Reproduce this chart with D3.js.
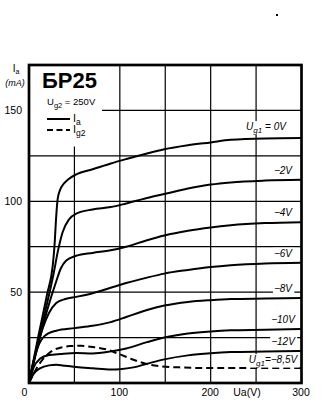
<!DOCTYPE html>
<html><head><meta charset="utf-8">
<script src="https://cdn.jsdelivr.net/npm/d3@7"></script>
<style>
body{margin:0;background:#fff}
text{font-family:"Liberation Sans Narrow","Liberation Sans",Arial,sans-serif;fill:#000}
</style>
</head><body><svg id="c" width="334" height="404"></svg>
<script>
// Axis ticks and grid
const uaTicks = [0, 100, 200, 300];
const iaTicks = [50, 100, 150];
const gridUa = [50, 100, 150, 200, 250];
const gridIa = [25, 50, 75, 100, 125, 150];

// Anode current Ia (mA) versus Ua (V) for each grid-1 voltage
const ia0V = [[0,0],[10,25],[20,49],[26,64],[28,75],[30,92],[31.5,101],[34,106],[38,109.5],[43,112],[52,114.8],[70,117.6],[90,120.8],[107,123.2],[130,126.3],[149,128.6],[175,130.8],[200,132.4],[222,133.8],[260,134.6],[300,134.8]];
const ia2V = [[0,0],[10,23],[20,44],[27,60],[32,73],[37,83],[44,90],[52,93.2],[70,95.5],[90,96.8],[107,98.8],[130,101.8],[149,104],[175,107],[200,109.2],[222,110.4],[260,111.4],[300,111.8]];
const ia4V = [[0,0],[10,21],[20,40],[30,56],[35,63],[41,67.4],[52,70],[70,71.6],[90,73],[107,75],[130,78.6],[149,81.2],[175,83.8],[200,85.6],[222,86.8],[260,88],[300,88.5]];
const ia6V = [[0,0],[8,18],[15,30],[22,38.5],[30,44],[40,46.2],[52,47.4],[70,49.4],[90,52.4],[107,55],[130,58],[149,60.2],[175,62.2],[200,63.8],[222,64.8],[260,65.8],[300,66.2]];
const ia8V = [[0,0],[5,12],[10,20],[17,25.8],[30,28.8],[50,30.2],[70,31.5],[90,33.5],[107,36.3],[130,40.2],[149,42.6],[175,44.6],[200,45.6],[222,46.2],[260,46.5],[300,46.8]];
const ia10V = [[0,0],[5,8.5],[12,13.3],[22,15.4],[35,16],[52,16.5],[70,16.3],[90,17.4],[107,19],[130,22.5],[149,25],[175,27.2],[200,28.4],[222,29],[260,29.3],[300,29.7]];
const ia12V = [[0,0],[5,5],[12,8],[22,9.7],[30,10],[40,9.5],[52,8.8],[70,8.1],[90,7.4],[100,7.6],[115,8.6],[130,10.6],[149,13],[175,15.2],[200,16.4],[222,17],[260,17.3],[300,17.6]];
// Screen-grid current Ig2 at Ug1 = -8.5 V
const ig2 = [[0,0],[5,5],[10,9.5],[17,14],[25,17.5],[35,19.5],[45,20.3],[57,20.5],[70,19.8],[85,18.5],[100,15.8],[115,12.8],[130,10.4],[145,9.2],[165,8.6],[200,8.2],[300,8.2]];

const curves = [
  {data: ia0V,  label: "0V"},
  {data: ia2V,  label: "\u22122V"},
  {data: ia4V,  label: "\u22124V"},
  {data: ia6V,  label: "\u22126V"},
  {data: ia8V,  label: "\u22128V"},
  {data: ia10V, label: "\u221210V"},
  {data: ia12V, label: "\u221212V"}
];

const svg = d3.select("#c");
const x = d3.scaleLinear().domain([0, 300]).range([29, 301.5]);
const y = d3.scaleLinear().domain([0, 175]).range([383, 65]);

// grid
const grid = svg.append("g").attr("stroke", "#000").attr("stroke-width", 1.2);
grid.selectAll("line.v").data(gridUa).join("line")
  .attr("x1", d => x(d)).attr("x2", d => x(d)).attr("y1", y(0)).attr("y2", y(175));
grid.selectAll("line.h").data(gridIa).join("line")
  .attr("y1", d => y(d)).attr("y2", d => y(d)).attr("x1", x(0)).attr("x2", x(300));

// legend panel
svg.append("rect").attr("x", 30).attr("y", 65).attr("width", 72).attr("height", 81.5).attr("fill", "#fff");

const line = d3.line().x(d => x(d[0])).y(d => y(d[1])).curve(d3.curveMonotoneX);

svg.append("g").selectAll("path").data(curves).join("path")
  .attr("d", d => line(d.data)).attr("fill", "none").attr("stroke", "#000").attr("stroke-width", 2);

svg.append("path").attr("d", line(ig2)).attr("fill", "none").attr("stroke", "#000")
  .attr("stroke-width", 2).attr("stroke-dasharray", "7,4");

// curve labels with white backing
function boxed(g) {
  g.each(function() {
    const t = d3.select(this).select("text").node().getBBox();
    d3.select(this).insert("rect", "text").attr("x", t.x - 1).attr("y", t.y).attr("width", t.width + 2)
      .attr("height", t.height).attr("fill", "#fff");
  });
}
function ugLabel(g, sub, rest) {
  const t = g.append("text").attr("font-size", 10).attr("font-style", "italic").attr("text-anchor", "middle");
  t.append("tspan").text("U");
  t.append("tspan").attr("font-size", 8).attr("dy", 2.5).text(sub);
  t.append("tspan").attr("dy", -2.5).text(rest);
  return t;
}

const lab = svg.append("g");
curves.forEach((c, i) => {
  const last = c.data[c.data.length - 1];
  const g = lab.append("g");
  if (i === 0) {
    ugLabel(g, "g1", " = " + c.label).attr("x", 266).attr("y", y(last[1]) - 8);
  } else {
    g.append("text").attr("font-size", 10).attr("font-style", "italic").attr("text-anchor", "middle")
      .attr("x", 283).attr("y", y(last[1]) - 6).text(c.label);
  }
  boxed(g);
});
{
  const g = lab.append("g");
  ugLabel(g, "g1", "=\u22128,5V").attr("x", 273).attr("y", y(ig2[ig2.length - 1][1]) - 5);
  boxed(g);
}

// axes
const ax = svg.append("g").attr("transform", `translate(0,${y(0)})`)
  .call(d3.axisBottom(x).tickValues(uaTicks).tickSize(0).tickPadding(6).tickFormat(d3.format("d")));
ax.select(".domain").remove();
ax.selectAll("text").attr("font-size", 10.5).attr("font-family", null).attr("dx", d => d === 0 ? -5 : -1);
svg.append("text").attr("x", 247).attr("y", 396).attr("font-size", 10.5).attr("text-anchor", "middle").text("Ua(V)");

const ay = svg.append("g").attr("transform", `translate(${x(0)},0)`)
  .call(d3.axisLeft(y).tickValues(iaTicks).tickSize(0).tickPadding(7).tickFormat(d3.format("d")));
ay.select(".domain").remove();
ay.selectAll("text").attr("font-size", 10.5).attr("font-family", null);

// y axis title
const yt = svg.append("text").attr("x", 16).attr("y", 72).attr("font-size", 10).attr("text-anchor", "middle")
  .attr("font-family", "'Liberation Serif',serif");
yt.append("tspan").text("I");
yt.append("tspan").attr("font-size", 7).attr("dy", 2).text("a");
svg.append("text").attr("x", 15).attr("y", 86).attr("font-size", 9).attr("font-style", "italic")
  .attr("text-anchor", "middle").text("(mA)");

// legend
svg.append("text").attr("x", 42).attr("y", 88).attr("font-size", 22).attr("font-weight", "bold")
  .attr("font-family", "'Liberation Sans',Arial,sans-serif").text("\u0411\u042025");
const ug2 = svg.append("text").attr("x", 47).attr("y", 105).attr("font-size", 9.5);
ug2.append("tspan").text("U");
ug2.append("tspan").attr("font-size", 7.5).attr("dy", 2.5).text("g2");
ug2.append("tspan").attr("dy", -2.5).text(" = 250V");

const legend = [{name: "a", dash: null, y: 119}, {name: "g2", dash: "6,3.5", y: 130}];
legend.forEach(l => {
  svg.append("line").attr("x1", 47).attr("x2", 70).attr("y1", l.y).attr("y2", l.y)
    .attr("stroke", "#000").attr("stroke-width", 2).attr("stroke-dasharray", l.dash);
  const t = svg.append("text").attr("x", 73).attr("y", l.y + 3).attr("font-size", 11)
    .attr("font-family", "'Liberation Serif',serif");
  t.append("tspan").text("I");
  t.append("tspan").attr("font-size", 8.5).attr("dy", 3).text(l.name);
});

// frame
svg.append("rect").attr("x", x(0)).attr("y", y(175)).attr("width", x(300) - x(0)).attr("height", y(0) - y(175))
  .attr("fill", "none").attr("stroke", "#000").attr("stroke-width", 2.7);

svg.append("rect").attr("x", 276).attr("y", 14).attr("width", 2).attr("height", 2).attr("fill", "#000");
</script>
</body></html>
